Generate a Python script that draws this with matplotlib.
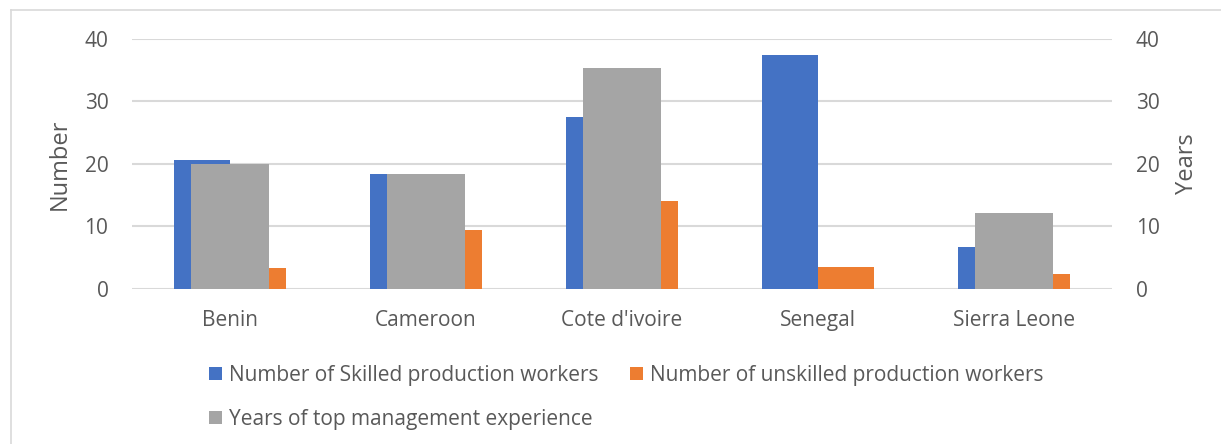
import numpy as np
import matplotlib
matplotlib.use("Agg")
import matplotlib.pyplot as plt
from matplotlib.lines import Line2D

## Data
countries = ['Benin', 'Cameroon', "Cote d'ivoire", 'Senegal', 'Sierra Leone']
skilled = [20.6, 18.45, 27.5, 37.4, 6.7]
unskilled = [3.3, 9.45, 14.1, 3.45, 2.35]
years_mgmt = [20.0, 18.45, 35.4, 0.0, 12.15]
ticks = [0, 10, 20, 30, 40]

blue = '#4472C4'
orange = '#ED7D31'
grey = '#A5A5A5'
txt = '#595959'

plt.rcParams['font.family'] = ['Open Sans', 'DejaVu Sans']
fs = 15

W, H = 1221, 444
fig = plt.figure(figsize=(W / 100, H / 100), dpi=100)
ax = fig.add_axes([132 / W, 1 - 288.7 / H, 980 / W, 249.7 / H])
x = np.arange(len(countries))
bw = 0.286

ax.bar(x - bw / 2, skilled, bw, color=blue, label='Number of Skilled production workers', zorder=2)
ax.bar(x + bw / 2, unskilled, bw, color=orange, label='Number of unskilled production workers', zorder=2)
ax.set_ylim(0, 40)
ax.set_xlim(-0.5, len(countries) - 0.5)
ax.set_yticks(ticks)
ax.grid(axis='y', color='#d9d9d9', lw=1.5, zorder=0)
ax.set_axisbelow(True)
ax.set_xticks(x)
ax.set_xticklabels(countries)
ax.tick_params(axis='y', length=0, pad=17, labelsize=fs, labelcolor=txt)
ax.tick_params(axis='x', length=0, pad=15, labelsize=fs, labelcolor=txt)
ax.set_ylabel('Number', fontsize=17, color=txt, labelpad=9)
for s in ax.spines.values():
    s.set_visible(False)

ax2 = ax.twinx()
ax2.bar(x, years_mgmt, 0.40, color=grey, label='Years of top management experience', zorder=3)
ax2.set_ylim(0, 40)
ax2.set_yticks(ticks)
ax2.tick_params(axis='y', length=0, pad=17, labelsize=fs, labelcolor=txt)
ax2.set_ylabel('Years', fontsize=17, color=txt, labelpad=11)
for s in ax2.spines.values():
    s.set_visible(False)

h1, l1 = ax.get_legend_handles_labels()
h2, l2 = ax2.get_legend_handles_labels()
handles = [h1[0], h2[0], h1[1]]
labels = [l1[0], l2[0], l1[1]]
fig.legend(handles, labels, ncol=2, loc='upper left', bbox_to_anchor=(209 / W, 1 - 365 / H),
           frameon=False, fontsize=fs, labelcolor=txt, handlelength=0.63, handleheight=0.63,
           handletextpad=0.34, columnspacing=1.5, labelspacing=1.1, borderaxespad=0,
           borderpad=0)

# chart-area border (left and top edges visible)
fig.add_artist(Line2D([11 / W, 11 / W], [0, 1 - 10 / H], color='#d9d9d9', lw=1.2))
fig.add_artist(Line2D([11 / W, 1], [1 - 10 / H, 1 - 10 / H], color='#d9d9d9', lw=1.2))

plt.savefig('out.png', dpi=100)
